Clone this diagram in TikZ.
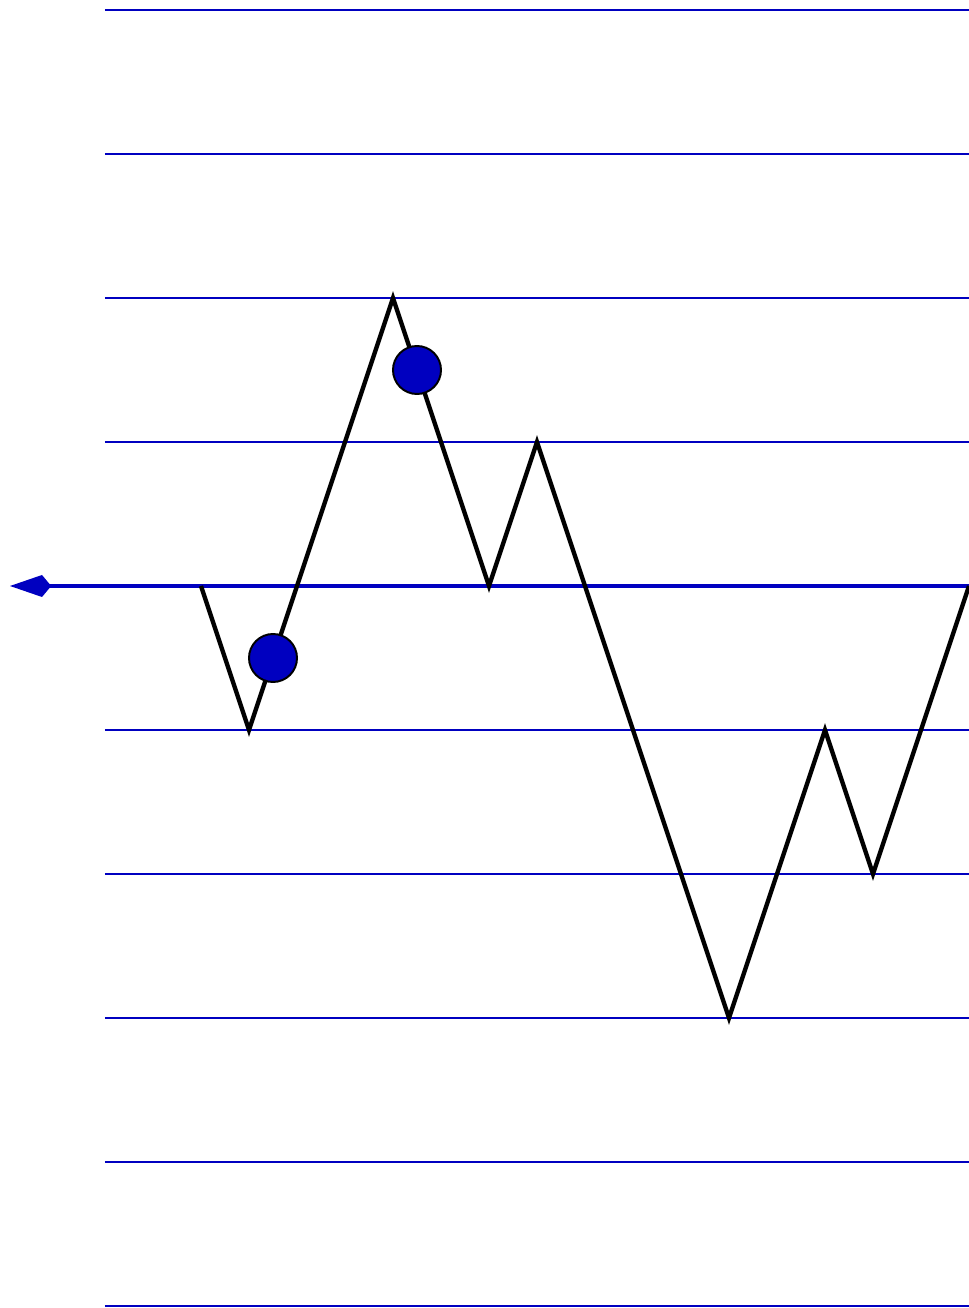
\documentclass[tikz,border=0pt]{standalone}
\usepackage{xcolor}
\usepackage{tikz}
\usetikzlibrary{arrows.meta}

\definecolor{levelblue}{RGB}{0,0,192}

\begin{document}
\begin{tikzpicture}[
            x=1.2cm, y=3.6cm,                  % un paso horizontal, un nivel vertical
            level/.style={
                draw=levelblue,
                line width=1.4pt
            },
            axis/.style={
                draw=levelblue,
                line width=2.8pt,
                -{Kite[length=1.03cm, width=0.55cm, inset=0.23cm]}
            },
            walk/.style={
                draw=black,
                line width=3.1pt,
                line join=miter
            },
            marker/.style={
                circle,
                draw=black,
                line width=1.4pt,
                fill=levelblue,
                minimum size=1.2cm,
                inner sep=0pt
            }
        ]
            \useasboundingbox (-4.1875,4.0694) rectangle (16,-5.0139);

            % --- NIVELES ---
            \foreach \lv in {4,3,2,1,-1,-2,-3,-4,-5} {
                \draw [level] (-2,\lv) -- (16,\lv);
                \draw [level] (1,\lv) -- (13,\lv);
            }

            % --- EJE CENTRAL ---
            \coordinate (tip) at (-3.979,0);
            \coordinate (east) at (16,0);
            \draw [axis] (east) -- (tip);

            % --- CAMINO ---
            \foreach \px/\py [count=\i from 0] in {0/0,1/-1,4/2,6/0,7/1,11/-3,13/-1,14/-2,16/0}
                \coordinate (p\i) at (\px,\py);
            \draw [walk] (p0) -- (p1) -- (p2) -- (p3) -- (p4) -- (p5) -- (p6) -- (p7) -- (p8);

            % --- MARCAS ---
            \node [marker] (upper) at (4.5,1.5) {};
            \node [marker] (lower) at (1.5,-0.5) {};
        \end{tikzpicture}
\end{document}
